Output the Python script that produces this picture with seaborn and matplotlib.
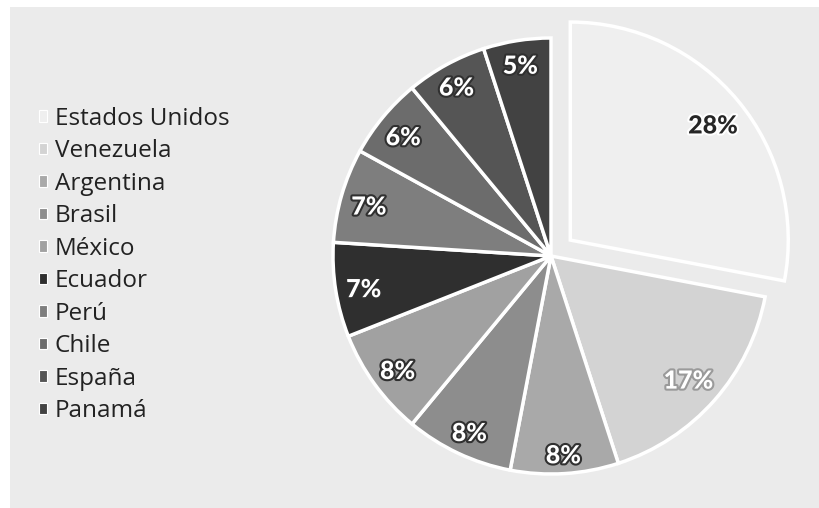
import matplotlib
matplotlib.use("Agg")
import matplotlib.pyplot as plt
import matplotlib.patheffects as pe
from matplotlib.patches import Rectangle
import numpy as np
import seaborn as sns

# Share of respondents by country
paises = ["Estados Unidos", "Venezuela", "Argentina", "Brasil", "México",
          "Ecuador", "Perú", "Chile", "España", "Panamá"]
porcentajes = [28, 17, 8, 8, 8, 7, 7, 6, 6, 5]
etiquetas = ["28%", "17%", "8%", "8%", "8%", "7%", "7%", "6%", "6%", "5%"]

sns.set_theme(style="white")
plt.rcParams["font.family"] = ["Open Sans", "DejaVu Sans"]

colores = ["#efefef", "#d3d3d3", "#a9a9a9", "#8d8d8d", "#a1a1a1",
           "#2f2f2f", "#7e7e7e", "#6c6c6c", "#555555", "#424242"]

W, H = 820, 508
fig = plt.figure(figsize=(W / 100, H / 100), dpi=100, facecolor="white")
# gray panel behind the chart
fig.patches.append(Rectangle((10 / W, -0.1), 2, 0.1 + 501 / H, transform=fig.transFigure,
                             facecolor="#ebebeb", edgecolor="none", zorder=-5))

ax = fig.add_axes([0, 0, 1, 1])
ax.set_zorder(2)
ax.patch.set_visible(False)

R = 218
centro = (551, 252)
# the offset is given in data units (pixels here)
explode = [25] + [0] * (len(porcentajes) - 1)

wedges, _ = ax.pie(porcentajes, colors=colores, startangle=90, counterclock=False,
                   radius=R, center=centro, explode=explode,
                   wedgeprops=dict(edgecolor="white", linewidth=2.5))
ax.set_xlim(0, W)
ax.set_ylim(0, H)
ax.set_aspect("equal")
ax.axis("off")

dist = [0.85, 0.84, 0.90, 0.88, 0.87, 0.87, 0.87, 0.88, 0.9, 0.9]
for w, lab, d in zip(wedges, etiquetas, dist):
    ang = np.deg2rad((w.theta1 + w.theta2) / 2)
    cx, cy = w.center
    x = cx + d * R * np.cos(ang)
    y = cy + d * R * np.sin(ang) - 4
    if lab == "28%":
        col, stroke = "#262626", "white"
    elif lab == "17%":
        col, stroke = "white", "#9a9a9a"
    else:
        col, stroke = "white", "#303030"
    ax.text(x, y, lab, ha="center", va="center", fontsize=18, fontweight="black",
            color=col, family=["Lato", "DejaVu Sans"],
            path_effects=[pe.withStroke(linewidth=3, foreground=stroke)])

leg = fig.legend(wedges, paises, loc="upper left",
                 bbox_to_anchor=(29 / W, 1 - 97 / H), frameon=False,
                 fontsize=17.5, handlelength=0.35, handleheight=0.35,
                 handletextpad=0.3, labelspacing=0.35, borderaxespad=0)
leg.set_zorder(3)
for t in leg.get_texts():
    t.set_color("#222222")
for h in leg.legend_handles:
    h.set_edgecolor("white")
    h.set_linewidth(0.8)

fig.savefig("out.png", dpi=100, facecolor="white")
